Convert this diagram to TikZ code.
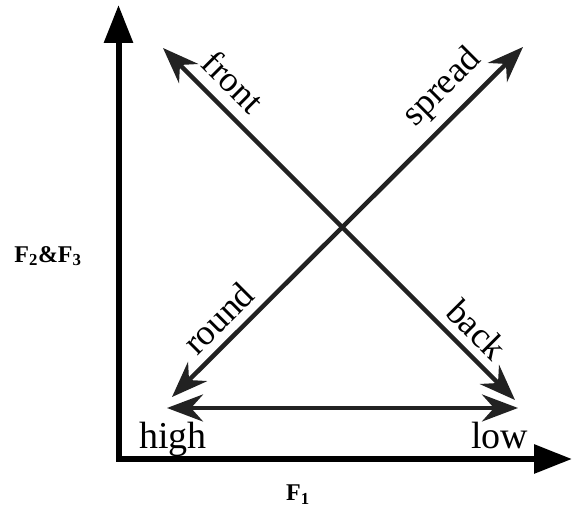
\documentclass[tikz,border=0pt]{standalone}
\usepackage{fontspec}
\setmainfont{Liberation Serif}
\usepackage{tikz}
\usetikzlibrary{arrows.meta}
\definecolor{lcol}{HTML}{222222}

\begin{document}
\begin{tikzpicture}[x=1pt,y=1pt,
  axis/.style={line width=6pt,line cap=rect,-{Triangle[length=38pt,width=28pt]}},
  link/.style={draw=lcol,line width=4.5pt,
    {Stealth[length=36pt,width=27pt,inset=12pt]}-{Stealth[length=36pt,width=27pt,inset=12pt]}},
  lab/.style={font=\fontsize{36}{42}\selectfont,inner sep=0pt},
  end/.style={font=\fontsize{38}{44}\selectfont,inner sep=0pt},
  albl/.style={font=\bfseries\fontsize{24}{28}\selectfont,inner sep=0pt}]
\useasboundingbox (0,0) rectangle (573,510);
% axes
\coordinate (O)    at (118.5,51);
\coordinate (ytip) at (118.5,505);
\coordinate (xtip) at (572,51);
\draw[axis] (O) -- (ytip);
\draw[axis] (O) -- (xtip);
\node[albl] (f23) at (48,254) {F\textsubscript{2}\&F\textsubscript{3}};
\node[albl] (f1)  at (298,15)  {F\textsubscript{1}};
% arrow ends
\coordinate (front)  at (163,462);
\coordinate (back)   at (515,110);
\coordinate (spread) at (523,463);
\coordinate (round)  at (172,113);
\coordinate (high)   at (167,102);
\coordinate (low)    at (518,102);
% front -- back
\draw[link] (front) -- node[lab,sloped,above=11pt,pos=0.148]{front}
  node[lab,sloped,above=8pt,pos=0.846]{back} (back);
% round -- spread
\draw[link] (round) -- node[lab,sloped,above=8pt,pos=0.178]{round}
  node[lab,sloped,above=9pt,pos=0.827]{spread} (spread);
% high -- low
\draw[link] (high) -- (low);
\node[end,anchor=base west] (hl) at (139,61) {high};
\node[end,anchor=base west] (ll) at (471,61) {low};
\end{tikzpicture}
\end{document}
